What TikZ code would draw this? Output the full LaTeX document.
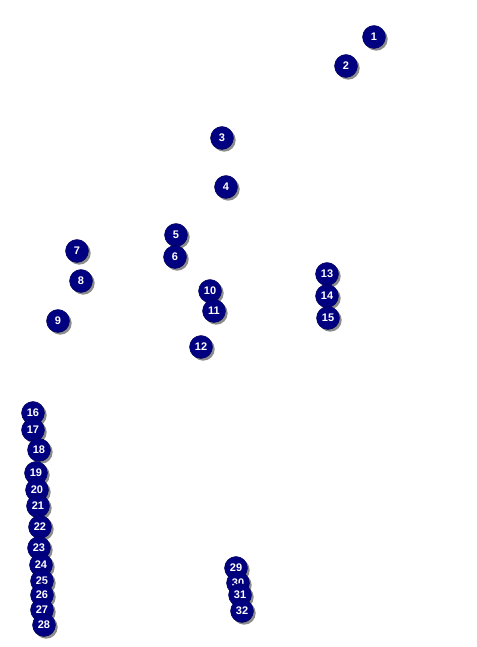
\documentclass[tikz,border=0pt]{standalone}
\usepackage{fontspec}
\setmainfont{Liberation Sans}
\definecolor{dotblue}{RGB}{0,0,128}
\tikzset{
  marker/.style={circle, fill=dotblue, draw=dotblue!70!black, line width=0.4pt, minimum size=23pt, inner sep=0pt,
    text=white, font=\bfseries\fontsize{11}{12}\selectfont},
  shadowdot/.style={circle, fill=black!45, minimum size=23pt, inner sep=0pt}
}
\newcommand{\marknum}[3]{%
  \node[shadowdot] (s#3) at (#1+2.2,{647-#2-2.2}) {};
  \node[marker] (m#3) at (#1,{647-#2}) {#3};
}
\begin{document}
\begin{tikzpicture}[x=1pt,y=1pt]
\useasboundingbox (0,0) rectangle (476,647);
\fill[white] (0,0) rectangle (476,647);
\marknum{374}{37}{1}
\marknum{346}{66}{2}
\marknum{222}{138}{3}
\marknum{226}{187}{4}
\marknum{176}{235}{5}
\marknum{175}{257}{6}
\marknum{77}{251}{7}
\marknum{81}{281}{8}
\marknum{58}{321}{9}
\marknum{210}{291}{10}
\marknum{214}{311}{11}
\marknum{201}{347}{12}
\marknum{327}{274}{13}
\marknum{327}{296}{14}
\marknum{328}{318}{15}
\marknum{33}{413}{16}
\marknum{33}{430}{17}
\marknum{39}{450}{18}
\marknum{36}{473}{19}
\marknum{37}{490}{20}
\marknum{38}{506}{21}
\marknum{40}{527}{22}
\marknum{39}{548}{23}
\marknum{41}{565}{24}
\marknum{42}{581}{25}
\marknum{42}{595}{26}
\marknum{42}{610}{27}
\marknum{44}{625}{28}
\marknum{236}{568}{29}
\marknum{238}{583}{30}
\marknum{240}{595}{31}
\marknum{242}{611}{32}
\end{tikzpicture}
\end{document}
